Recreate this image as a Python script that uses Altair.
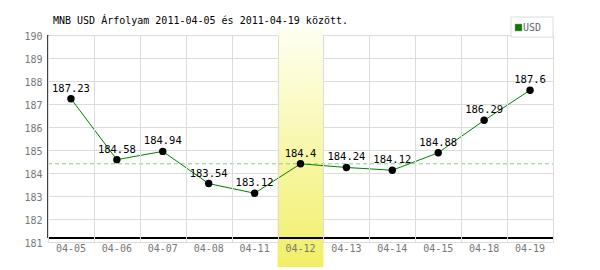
import altair as alt
import pandas as pd

# ---- data ----
dates = ["04-05", "04-06", "04-07", "04-08", "04-11", "04-12",
         "04-13", "04-14", "04-15", "04-18", "04-19"]
rates = [187.23, 184.58, 184.94, 183.54, 183.12, 184.4,
         184.24, 184.12, 184.88, 186.29, 187.6]
labels = ["187.23", "184.58", "184.94", "183.54", "183.12", "184.4",
          "184.24", "184.12", "184.88", "186.29", "187.6"]
highlight_dates = ["04-12"]
reference_values = [184.4]
y_ticks = [181, 182, 183, 184, 185, 186, 187, 188, 189, 190]
series_names = ["USD"]
title_text = "MNB USD Árfolyam 2011-04-05 és 2011-04-19 között."

df = pd.DataFrame({"date": dates, "rate": rates, "label": labels})
hl = pd.DataFrame({"date": highlight_dates})
ref = pd.DataFrame({"v": reference_values})
leg = pd.DataFrame({"name": series_names})
ttl = pd.DataFrame({"t": [title_text]})

FONT = "DejaVu Sans Mono"
W, H = 505, 207

xscale = alt.Scale(type="band", domain=dates, paddingInner=0, paddingOuter=0)
yscale = alt.Scale(domain=[181, 190], nice=False, zero=False)

xaxis = alt.Axis(title=None, labels=False, ticks=False, domain=False,
                 grid=True, tickBand="extent", gridColor="#dcdcdc",
                 gridWidth=1)
yaxis = alt.Axis(title=None, values=y_ticks, ticks=False, domain=False,
                 grid=True, gridColor="#dcdcdc", gridWidth=1,
                 labelFont=FONT, labelFontSize=10, labelColor="#777777",
                 labelPadding=6, labelBaseline="middle", labelOffset=1,
                 labelOverlap=False, labelFlush=False)

X = alt.X("date:N", scale=xscale, sort=dates, axis=xaxis)


def Y(field):
    return alt.Y(field, scale=yscale, axis=yaxis)


gradient = alt.LinearGradient(
    gradient="linear",
    stops=[alt.GradientStop(color="#fffff2", offset=0),
           alt.GradientStop(color="#f1ef66", offset=1)],
    x1=0, x2=0, y1=0, y2=1)

band = alt.Chart(hl).mark_rect(fill=gradient).encode(
    x=X, y=alt.value(-7), y2=alt.value(232))

refline = alt.Chart(ref).mark_rule(color="#88cc88", strokeDash=[4, 3],
                                   strokeWidth=1).encode(
    y=Y("v:Q"), x=alt.value(0), x2=alt.value(W))

xaxis_line = alt.Chart(ref).mark_rule(color="black", strokeWidth=2).encode(
    y=alt.value(203), x=alt.value(0), x2=alt.value(W))
yaxis_line = alt.Chart(ref).mark_rule(color="black", strokeWidth=1.5).encode(
    x=alt.value(0), y=alt.value(0), y2=alt.value(203))

line = alt.Chart(df).mark_line(color="#008000", strokeWidth=1).encode(
    x=X, y=Y("rate:Q"))

points = alt.Chart(df).mark_circle(color="black", opacity=1, size=55).encode(
    x=X, y=Y("rate:Q"))

vlabels = alt.Chart(df).mark_text(font=FONT, fontSize=10.5, color="black",
                                  dy=-10, baseline="middle").encode(
    x=X, y=Y("rate:Q"), text="label:N")

xlabels = alt.Chart(df).mark_text(font=FONT, fontSize=10, color="#777777",
                                  baseline="middle").encode(
    x=X, y=alt.value(214), text="date:N")

title = alt.Chart(ttl).mark_text(font=FONT, fontSize=10, color="black",
                                 align="left", baseline="middle").encode(
    x=alt.value(5), y=alt.value(-14), text="t:N")

legbox = alt.Chart(leg).mark_rect(fill="white", stroke="#dcdcdc",
                                  strokeWidth=1).encode(
    x=alt.value(463), x2=alt.value(505), y=alt.value(-18), y2=alt.value(2))
legsym = alt.Chart(leg).mark_square(color="#008000", opacity=1, size=42,
                                    stroke="#333333", strokeWidth=0.5).encode(
    x=alt.value(470.5), y=alt.value(-7.5))
legtext = alt.Chart(leg).mark_text(font=FONT, fontSize=10, color="#666666",
                                   align="left", baseline="middle").encode(
    x=alt.value(475), y=alt.value(-7), text="name:N")

chart = alt.layer(
    band, refline, xaxis_line, yaxis_line, line, points, vlabels, xlabels,
    title, legbox, legsym, legtext
).properties(
    width=W, height=H,
    autosize=alt.AutoSizeParams(type="none"),
    padding={"left": 48, "top": 35, "right": 47, "bottom": 28},
    background="white",
).configure_view(stroke=None)

chart.save("out.html", embed_options={"renderer": "svg", "actions": False})
